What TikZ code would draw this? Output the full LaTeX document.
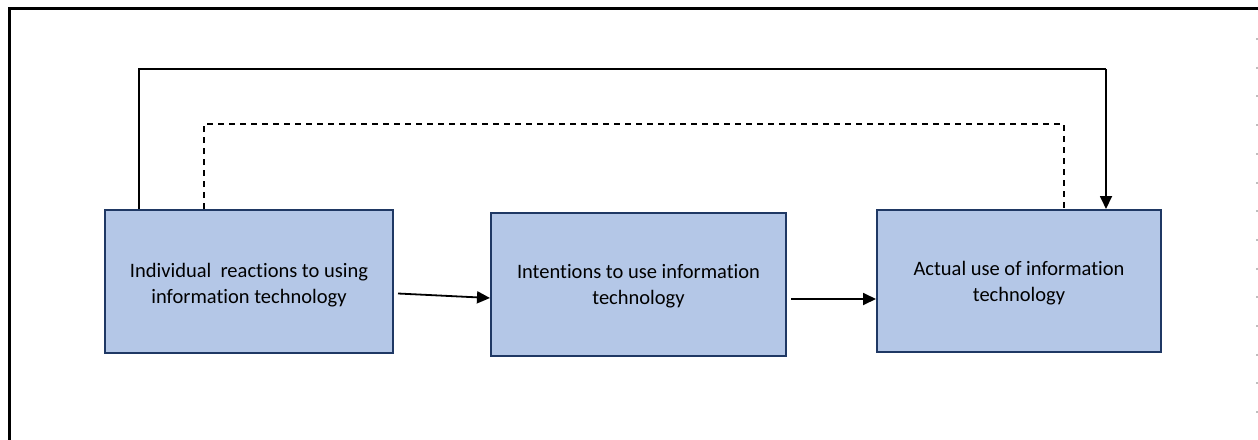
\documentclass[tikz,border=0pt]{standalone}
\usepackage{fontspec}
\setmainfont{Carlito}[Ligatures=NoCommon]
\usetikzlibrary{arrows.meta}
\definecolor{boxfill}{HTML}{B4C7E7}
\definecolor{boxline}{HTML}{1F3864}
\begin{document}
\begin{tikzpicture}[x=1pt,y=-1pt,
  blk/.style={draw=boxline,line width=2pt,fill=boxfill,inner sep=0pt},
  txt/.style={align=center,inner sep=0pt,font=\fontsize{20.5}{26}\selectfont},
  conn/.style={line width=1.8pt,-{Triangle[length=13pt,width=12pt]}},
  fb/.style={line width=1.8pt},
  fbd/.style={line width=1.4pt,dash pattern=on 6pt off 5pt}]
\useasboundingbox (0,0) rectangle (1258,439);
% outer frame (clipped at right and bottom)
\draw[line width=3pt] (9,445) -- (9,8) -- (1265,8);
\draw[gray!50,line width=1.5pt,dash pattern=on 2pt off 26.7pt] (1257,38) -- (1257,430);
% boxes
\node[blk,minimum width=288pt,minimum height=143pt] (a) at (249,281.5) {};
\node[blk,minimum width=295pt,minimum height=143pt] (b) at (638.5,284.5) {};
\node[blk,minimum width=284pt,minimum height=142pt] (c) at (1019,281) {};
\node[txt] (ta) at ([yshift=-4pt]a.center) {Individual\ \ reactions to using\\information technology};
\node[txt] (tb) at ([yshift=-2pt]b.center) {Intentions to use information\\technology};
\node[txt] (tc) at ([yshift=-2pt]c.center) {Actual use of information\\technology};
% forward arrows
\draw[conn] ([xshift=4pt,yshift=-12pt]a.east) -- ([yshift=-13.5pt]b.west);
\draw[conn] ([xshift=4pt,yshift=-14.5pt]b.east) -- ([yshift=-18pt]c.west);
% feedback solid
\coordinate (s1) at (139,69);
\coordinate (s2) at (1106,69);
\draw[fb] (a.north -| s1) -- (s1) -- (s2);
\draw[conn] (s2) -- (s2 |- c.north);
% feedback dashed
\coordinate (d1) at (204,124);
\coordinate (d2) at (1064,124);
\draw[fbd] (a.north -| d1) -- (d1) -- (d2) -- (d2 |- c.north);
\end{tikzpicture}
\end{document}
